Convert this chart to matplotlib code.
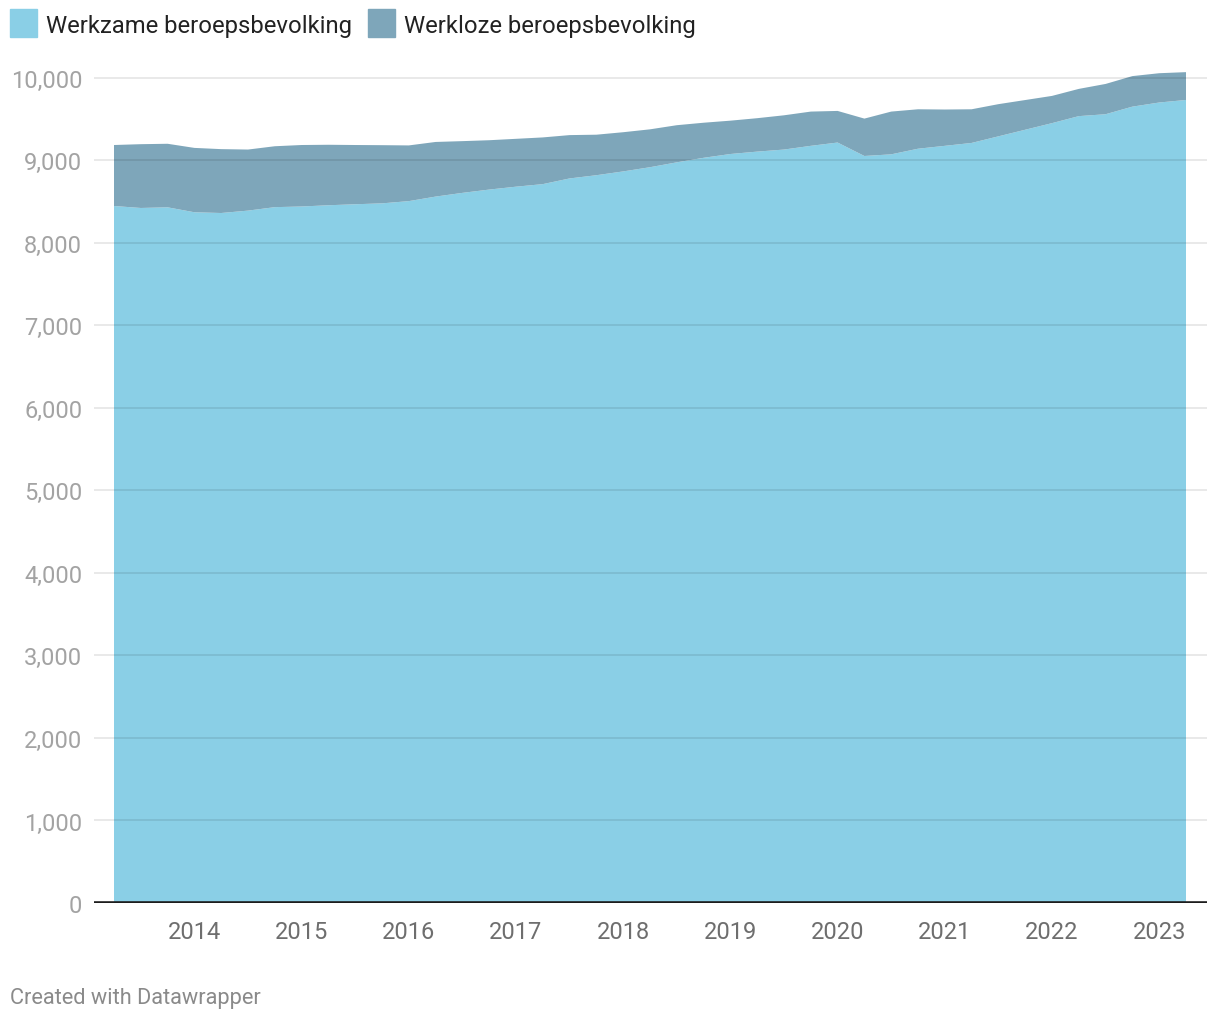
import matplotlib.pyplot as plt
from matplotlib.patches import Rectangle
from matplotlib.ticker import FuncFormatter
import numpy as np

plt.rcParams['font.family'] = ['Roboto', 'DejaVu Sans']

# quarterly, 2013 Q2 .. 2023 Q2 (x 1000 persons)
quarters = np.arange(2013.25, 2023.26, 0.25)
werkzaam = [8446, 8422, 8430, 8370, 8361, 8390, 8432, 8440, 8455, 8467,
            8478, 8505, 8560, 8605, 8645, 8680, 8711, 8780, 8819, 8865,
            8916, 8975, 9030, 9076, 9105, 9130, 9175, 9215, 9052, 9072,
            9140, 9175, 9210, 9290, 9370, 9450, 9535, 9558, 9650, 9700,
            9731]
werkloos = [739, 773, 770, 780, 774, 740, 738, 745, 733, 718,
            705, 675, 662, 627, 598, 580, 566, 525, 491, 475,
            459, 450, 425, 404, 405, 415, 415, 383, 453, 518,
            478, 440, 408, 390, 360, 330, 330, 367, 370, 355,
            337]
labels = ["Werkzame beroepsbevolking", "Werkloze beroepsbevolking"]
colors = ["#8acfe6", "#7ea6ba"]
year_ticks = list(range(2014, 2024))
y_ticks = list(range(0, 10001, 1000))

W, H = 1220, 1020
fig = plt.figure(figsize=(W / 100, H / 100), dpi=100)
ax = fig.add_axes([94 / W, 1 - 904 / H, 1113 / W, (904 - 70.5) / H])

ax.stackplot(quarters, werkzaam, werkloos, colors=colors, linewidth=0)

ax.set_xlim(2013.25 - 20 / 107.2, 2023.25 + 21 / 107.2)
ax.set_ylim(0, 10100)

for v in y_ticks[1:]:
    ax.axhline(v, color="black", alpha=0.1, linewidth=1.2, zorder=3)
ax.axhline(0, color="#1d1d1d", linewidth=2.6, zorder=4)

for s in ax.spines.values():
    s.set_visible(False)
ax.set_yticks(y_ticks)
ax.yaxis.set_major_formatter(FuncFormatter(lambda v, p: f"{int(v):,}"))
ax.set_xticks(year_ticks)
ax.tick_params(axis="y", length=0, pad=8.5, labelsize=17, labelcolor="#a3a3a3")
ax.tick_params(axis="x", length=0, pad=12, labelsize=17, labelcolor="#6e6e6e")

# legend
for i, (lab, col) in enumerate(zip(labels, colors)):
    x0 = [10, 368][i]
    fig.add_artist(Rectangle((x0 / W, 1 - 38 / H), 27 / W, 28 / H,
                             transform=fig.transFigure, color=col))
    fig.text((x0 + 36) / W, 1 - 27 / H, lab, fontsize=17.2, color="#222222",
             va="center", ha="left")

fig.text(10 / W, 1 - 999 / H, "Created with Datawrapper", fontsize=15.7,
         color="#8a8a8a", va="center", ha="left")

plt.savefig("out.png", dpi=100)
